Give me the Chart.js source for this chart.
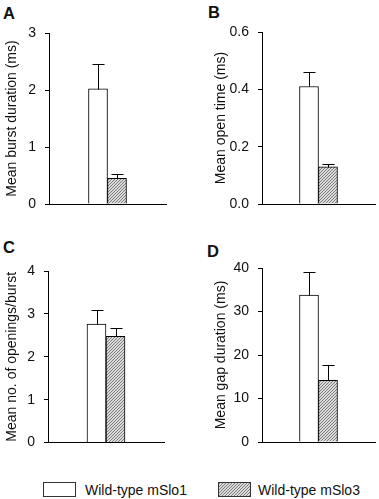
<!DOCTYPE html>
<html>
<head>
<meta charset="utf-8">
<script src="https://cdn.jsdelivr.net/npm/chart.js@4/dist/chart.umd.min.js"></script>
<style>
  html, body { margin: 0; padding: 0; background: #fff; }
  body { width: 379px; height: 499px; position: relative; overflow: hidden; font-family: "Liberation Sans", Arial, sans-serif; color: #111; }
  .panel { position: absolute; }
  .letter { position: absolute; font-weight: bold; font-size: 16.5px; line-height: 1; }
  .leg-text { position: absolute; font-size: 14px; line-height: 1; white-space: nowrap; }
  .leg-box { position: absolute; box-sizing: border-box; border: 1px solid #333; }
</style>
</head>
<body>
<div class="letter" style="left:3px;top:5px">A</div>
<div class="letter" style="left:208px;top:4px">B</div>
<div class="letter" style="left:3px;top:239px">C</div>
<div class="letter" style="left:207px;top:243px">D</div>

<div class="panel" style="left:0;top:0"><canvas id="cA" width="190" height="230"></canvas></div>
<div class="panel" style="left:190px;top:0"><canvas id="cB" width="189" height="230"></canvas></div>
<div class="panel" style="left:0;top:230px"><canvas id="cC" width="190" height="230"></canvas></div>
<div class="panel" style="left:190px;top:230px"><canvas id="cD" width="189" height="230"></canvas></div>

<div class="leg-box" style="left:43px;top:482px;width:33px;height:15px;background:#fff"></div>
<div class="leg-text" id="leg1" style="left:85px;top:483px"></div>
<canvas id="legHatch" class="leg-box" width="33" height="15" style="left:218px;top:482px;width:33px;height:15px;border:none"></canvas>
<div class="leg-text" id="leg2" style="left:258px;top:483px"></div>

<script>
// ---- Data ----
const seriesNames = ['Wild-type mSlo1', 'Wild-type mSlo3'];

const burstMeans = [2.02, 0.45];
const burstErrors = [0.43, 0.07];
const burstTicks = [0, 1, 2, 3];

const openMeans = [0.41, 0.13];
const openErrors = [0.05, 0.01];
const openTicks = [0.0, 0.2, 0.4, 0.6];

const openingsMeans = [2.76, 2.48];
const openingsErrors = [0.34, 0.20];
const openingsTicks = [0, 1, 2, 3, 4];

const gapMeans = [33.8, 14.2];
const gapErrors = [5.3, 3.5];
const gapTicks = [0, 10, 20, 30, 40];

const titles = {
  A: 'Mean burst duration (ms)',
  B: 'Mean open time (ms)',
  C: 'Mean no. of openings/burst',
  D: 'Mean gap duration (ms)'
};

// ---- Hatch pattern ----
function makeHatch() {
  const c = document.createElement('canvas');
  c.width = 3; c.height = 3;
  const g = c.getContext('2d');
  g.fillStyle = '#dcdcdc';
  g.fillRect(0, 0, 3, 3);
  g.fillStyle = '#7a7a7a';
  g.fillRect(0, 2, 1, 1);
  g.fillRect(1, 1, 1, 1);
  g.fillRect(2, 0, 1, 1);
  return c;
}
const hatchCanvas = makeHatch();
function hatchPattern(ctx) { return ctx.createPattern(hatchCanvas, 'repeat'); }

// legend
document.getElementById('leg1').textContent = seriesNames[0];
document.getElementById('leg2').textContent = seriesNames[1];
(function () {
  const lc = document.getElementById('legHatch');
  const g = lc.getContext('2d');
  g.fillStyle = hatchPattern(g);
  g.fillRect(0, 0, 33, 15);
  g.strokeStyle = '#333';
  g.lineWidth = 1;
  g.strokeRect(0.5, 0.5, 32, 14);
})();

// ---- Error bar plugin ----
const errorBars = {
  id: 'errorBars',
  afterDatasetsDraw(chart) {
    const errs = chart.options.plugins.errorBars.errors;
    const ys = chart.scales.y;
    const ctx = chart.ctx;
    ctx.save();
    ctx.strokeStyle = '#000';
    ctx.lineWidth = 1;
    chart.data.datasets.forEach((ds, i) => {
      const bar = chart.getDatasetMeta(i).data[0];
      const v = ds.data[0];
      const top = Math.round(ys.getPixelForValue(v + errs[i])) + 0.5;
      const base = Math.round(bar.y) + 0.5;
      const x = Math.round(bar.x) + 0.5;
      ctx.beginPath();
      ctx.moveTo(x, base);
      ctx.lineTo(x, top);
      ctx.moveTo(x - 6, top);
      ctx.lineTo(x + 6, top);
      ctx.stroke();
    });
    ctx.restore();
  }
};

const FONT = { family: '"Liberation Sans", Arial, sans-serif', size: 14 };

function makeChart(id, means, errors, ticks, title, yWidth, pad, titlePad, decimals) {
  const ctx = document.getElementById(id).getContext('2d');
  const pat = hatchPattern(ctx);
  return new Chart(ctx, {
    type: 'bar',
    data: {
      labels: [''],
      datasets: [
        { label: seriesNames[0], data: [means[0]], backgroundColor: '#ffffff', borderColor: '#000', borderWidth: 1 },
        { label: seriesNames[1], data: [means[1]], backgroundColor: pat, borderColor: '#000', borderWidth: 1 }
      ]
    },
    plugins: [errorBars],
    options: {
      responsive: false,
      devicePixelRatio: 1,
      animation: false,
      barThickness: 19,
      layout: { padding: pad },
      plugins: {
        legend: { display: false },
        tooltip: { enabled: false },
        errorBars: { errors: errors }
      },
      scales: {
        x: {
          grid: { drawOnChartArea: false, drawTicks: false },
          border: { display: true, color: '#000', width: 1 },
          ticks: { display: false },
          afterFit(s) { s.height = 0; }
        },
        y: {
          min: ticks[0],
          max: ticks[ticks.length - 1],
          afterBuildTicks(s) { s.ticks = ticks.map(v => ({ value: v })); },
          ticks: {
            color: '#111',
            font: FONT,
            padding: 9,
            callback: v => Number(v).toFixed(decimals)
          },
          grid: { drawOnChartArea: false, drawTicks: true, tickLength: 4, color: '#000' },
          border: { display: true, color: '#000', width: 1 },
          title: { display: true, text: title, color: '#111', font: FONT, padding: { top: titlePad, bottom: 0 } },
          afterFit(s) { s.width = yWidth; }
        }
      }
    }
  });
}

makeChart('cA', burstMeans, burstErrors, burstTicks, titles.A, 49, { top: 33, right: 24, bottom: 26, left: 0 }, 3.8, 0);
makeChart('cB', openMeans, openErrors, openTicks, titles.B, 72, { top: 32, right: 4, bottom: 26, left: 0 }, 22.6, 1);
makeChart('cC', openingsMeans, openingsErrors, openingsTicks, titles.C, 48, { top: 41, right: 26, bottom: 17, left: 0 }, 3.8, 0);
makeChart('cD', gapMeans, gapErrors, gapTicks, titles.D, 72, { top: 38, right: 4, bottom: 18, left: 0 }, 22.9, 0);
</script>
</body>
</html>
